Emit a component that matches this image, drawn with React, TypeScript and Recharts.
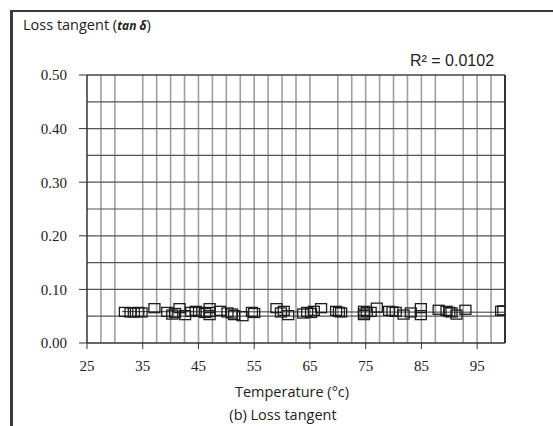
import React from "react";
import {
  ScatterChart,
  Scatter,
  XAxis,
  YAxis,
  ReferenceLine,
} from "recharts";

// Temperature (°C) of each measurement
const temperature = [
  31.8, 32.8, 33.4, 34.2, 34.8, 37.1, 39.4, 40.3, 40.8, 41.6, 42.6, 43.7, 44.5,
  45.1, 46.2, 47.0, 47.0, 47.0, 48.9, 50.2, 51.0, 51.4, 52.9, 54.6, 55.0, 59.0,
  59.8, 60.3, 61.1, 63.8, 64.5, 65.2, 65.7, 67.0, 69.7, 70.2, 70.6, 74.7, 74.7,
  74.7, 75.2, 75.9, 77.0, 79.2, 79.8, 80.4, 81.8, 83.1, 84.9, 84.9, 88.1, 89.5,
  90.0, 90.4, 91.3, 92.9, 99.3, 99.7,
];
// Loss tangent (tan δ) of each measurement
const lossTangent = [
  0.058, 0.057, 0.057, 0.058, 0.057, 0.065, 0.058, 0.053, 0.056, 0.065, 0.052,
  0.058, 0.06, 0.058, 0.056, 0.065, 0.058, 0.052, 0.06, 0.057, 0.055, 0.052,
  0.05, 0.058, 0.056, 0.065, 0.057, 0.06, 0.052, 0.055, 0.058, 0.056, 0.06,
  0.065, 0.06, 0.058, 0.057, 0.06, 0.055, 0.052, 0.058, 0.058, 0.066, 0.06,
  0.059, 0.058, 0.053, 0.057, 0.065, 0.052, 0.062, 0.06, 0.058, 0.057, 0.053,
  0.062, 0.06, 0.061,
];

const xTicks = [25, 35, 45, 55, 65, 75, 85, 95];
const yTicks = [0, 0.1, 0.2, 0.3, 0.4, 0.5];
const xGridLines = [
  27.5, 30, 35, 37.5, 40, 42.5, 45, 47.5, 50, 52.5, 55, 57.5, 60, 62.5, 65, 70,
  72.5, 75, 77.5, 80, 82.5, 85, 87.5, 92.5, 95, 97.5,
];
const yGridLines = [0.05, 0.1, 0.15, 0.2, 0.25, 0.3, 0.35, 0.4, 0.45];
const trendStart = { x: 31.3, y: 0.0585 };
const trendEnd = { x: 100, y: 0.0574 };

const points = temperature.map((t, i) => ({ x: t, y: lossTangent[i] }));

const SquareMarker = (props: any) => {
  const { cx, cy } = props;
  if (cx == null || cy == null) return null;
  return (
    <rect
      x={cx - 5.5}
      y={cy - 4.5}
      width={11}
      height={9}
      fill="none"
      stroke="#1e1e1e"
      strokeWidth={1.3}
    />
  );
};

export default function App() {
  return (
    <div
      style={{
        position: "fixed",
        left: 0,
        top: 0,
        width: 553,
        height: 426,
        background: "#fff",
        overflow: "hidden",
      }}
    >
      <div
        style={{
          position: "absolute",
          left: 10,
          top: 10,
          width: 560,
          height: 430,
          borderTop: "2px solid #3a3a3a",
          borderLeft: "3px solid #3a3a3a",
        }}
      />
      <div
        style={{
          position: "absolute",
          left: 23,
          top: 15,
          fontFamily: "'Open Sans', sans-serif",
          fontSize: 14.5,
          color: "#222",
          whiteSpace: "nowrap",
        }}
      >
        Loss tangent (
        <span style={{ fontWeight: "bold", fontStyle: "italic", fontSize: 12 }}>
          tan δ
        </span>
        )
      </div>
      <div style={{ position: "absolute", left: 0, top: 0 }}>
        <ScatterChart
          width={553}
          height={426}
          margin={{ top: 75, right: 48, bottom: 53, left: 27 }}
        >
          <XAxis
            type="number"
            dataKey="x"
            domain={[25, 100]}
            ticks={xTicks}
            allowDataOverflow
            height={30}
            tickSize={6}
            tickMargin={11}
            axisLine={{ stroke: "#333", strokeWidth: 1.5 }}
            tickLine={{ stroke: "#333" }}
            tick={{
              fill: "#222",
              fontFamily: "'Liberation Serif', serif",
              fontSize: 15,
            }}
          />
          <YAxis
            type="number"
            dataKey="y"
            domain={[0, 0.5]}
            ticks={yTicks}
            allowDataOverflow
            width={60}
            tickSize={8}
            tickMargin={12}
            tickFormatter={(v: number) => v.toFixed(2)}
            axisLine={{ stroke: "#333", strokeWidth: 1.5 }}
            tickLine={{ stroke: "#333" }}
            tick={{
              fill: "#222",
              fontFamily: "'Liberation Serif', serif",
              fontSize: 15,
            }}
          />
          {xGridLines.map((v) => (
            <ReferenceLine
              key={"vx" + v}
              x={v}
              stroke="#a0a0a0"
              strokeWidth={1.6}
            />
          ))}
          {yGridLines.map((v) => (
            <ReferenceLine
              key={"hy" + v}
              y={v}
              stroke="#555"
              strokeWidth={1.2}
            />
          ))}
          <ReferenceLine x={100} stroke="#333" strokeWidth={2} />
          <ReferenceLine y={0.5} stroke="#444" strokeWidth={1.5} />
          <ReferenceLine
            segment={[trendStart, trendEnd]}
            stroke="#333"
            strokeWidth={1}
          />
          <Scatter
            data={points}
            shape={SquareMarker}
            isAnimationActive={false}
          />
        </ScatterChart>
      </div>
      <div
        style={{
          position: "absolute",
          left: 410,
          top: 52,
          fontFamily: "'Liberation Sans', Arial, sans-serif",
          fontSize: 16,
          color: "#222",
          whiteSpace: "nowrap",
        }}
      >
        R² = 0.0102
      </div>
      <div
        style={{
          position: "absolute",
          left: 192,
          width: 200,
          top: 382,
          textAlign: "center",
          fontFamily: "'Open Sans', sans-serif",
          fontSize: 14.5,
          color: "#222",
          whiteSpace: "nowrap",
        }}
      >
        Temperature (°c)
      </div>
      <div
        style={{
          position: "absolute",
          left: 183,
          width: 200,
          top: 405,
          textAlign: "center",
          fontFamily: "'Open Sans', sans-serif",
          fontSize: 14.5,
          color: "#222",
          whiteSpace: "nowrap",
        }}
      >
        (b) Loss tangent
      </div>
    </div>
  );
}
